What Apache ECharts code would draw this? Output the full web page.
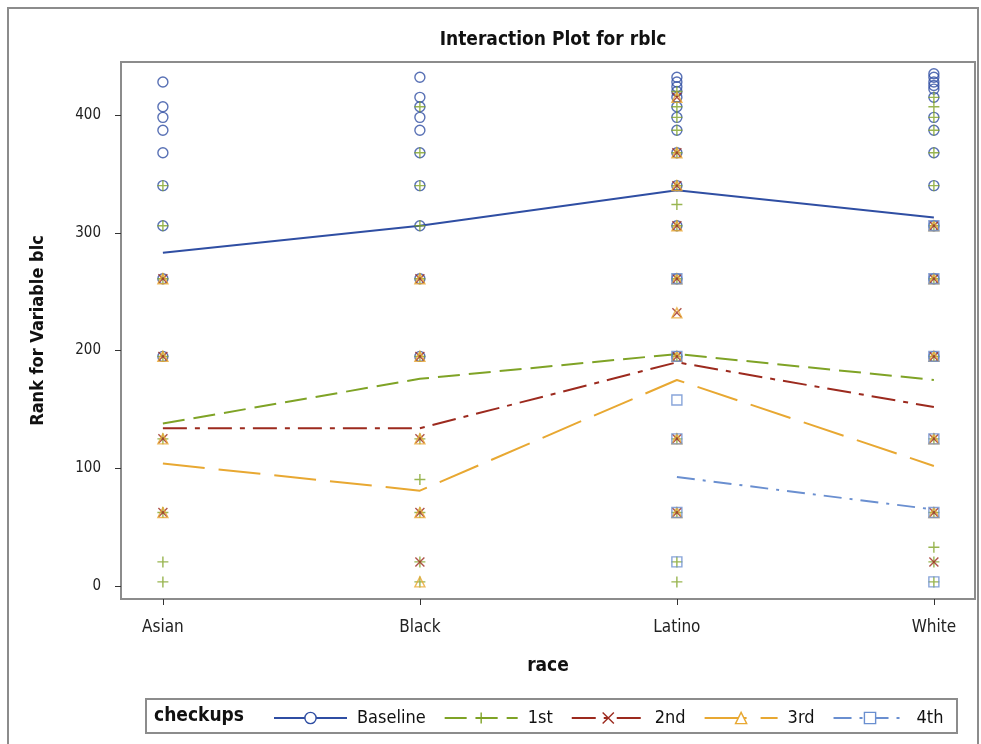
<!DOCTYPE html>
<html>
<head>
<meta charset="utf-8">
<title>Interaction Plot for rblc</title>
<script src="https://cdn.jsdelivr.net/npm/echarts@6/dist/echarts.min.js"></script>
<style>
  html, body { margin: 0; padding: 0; background: #fff; }
  #chart { width: 981px; height: 744px; }
</style>
</head>
<body>
<div id="chart"></div>
<script>
// Categories and groups
const races = ['Asian', 'Black', 'Latino', 'White'];
const checkups = ['Baseline', '1st', '2nd', '3rd', '4th'];
const yTicks = [0, 100, 200, 300, 400];

// Mean rank per race (null = no observations)
const meanBaseline = [283, 306, 336, 313];
const mean1st = [138, 176, 197, 175];
const mean2nd = [134, 134, 190, 152];
const mean3rd = [104, 81, 175, 102];
const mean4th = [null, null, 92.5, 65];

// Observed ranks per race (Asian, Black, Latino, White)
const obsBaseline = [
  [428, 407, 398, 387, 368, 340, 306, 261, 195],
  [432, 415, 407, 398, 387, 368, 340, 306, 261, 195],
  [432, 428, 424, 420, 415, 407, 398, 387, 368, 340, 306, 261, 195],
  [435, 432, 428, 425, 422, 415, 398, 387, 368, 340, 306, 261, 195]
];
const obs1st = [
  [340, 306, 261, 195, 125, 62.5, 20.5, 3.5],
  [407, 368, 340, 306, 261, 195, 125, 90.5, 62.5, 20.5, 3.5],
  [420, 407, 398, 387, 368, 340, 324, 306, 261, 195, 125, 62.5, 20.5, 3.5],
  [415, 407, 398, 387, 368, 340, 306, 261, 195, 125, 62.5, 33, 20.5, 3.5]
];
const obs2nd = [
  [261, 195, 125, 62.5],
  [261, 195, 125, 62.5, 20.5],
  [415, 368, 340, 306, 261, 232, 195, 125, 62.5],
  [306, 261, 195, 125, 62.5, 20.5]
];
const obs3rd = [
  [261, 195, 125, 62.5],
  [261, 195, 125, 62.5, 3.5],
  [415, 368, 340, 306, 261, 232, 195, 125, 62.5],
  [306, 261, 195, 125, 62.5]
];
const obs4th = [
  [],
  [],
  [261, 195, 158, 125, 62.5, 20.5],
  [306, 261, 195, 125, 62.5, 3.5]
];

const means = [meanBaseline, mean1st, mean2nd, mean3rd, mean4th];
const obs = [obsBaseline, obs1st, obs2nd, obs3rd, obs4th];

// Group styling
const colors = ['#2f4ea3', '#7fa326', '#9c2a1e', '#e8a832', '#6a8fd0'];
const symbols = [
  'circle',
  'path://M0,5L10,5M5,0L5,10',
  'path://M0,0L10,10M10,0L0,10',
  'triangle',
  'rect'
];
const symbolSizes = [10, 11, 9, 10, 10];
const dashes = ['solid', [22, 9], [24, 8, 5, 8], [42, 14], [18, 8, 3, 8]];

const FONT = "'Liberation Sans Narrow', 'DejaVu Sans Condensed', 'Roboto Condensed', Roboto, sans-serif";

const series = [];
checkups.forEach((name, g) => {
  const lineData = [];
  means[g].forEach((v, i) => { if (v !== null) lineData.push([i, v]); });
  series.push({
    name: name,
    type: 'line',
    data: lineData,
    symbol: symbols[g],
    showSymbol: false,
    itemStyle: { color: '#fff', borderColor: colors[g], borderWidth: 1.4 },
    lineStyle: { color: colors[g], width: 2, type: dashes[g] },
    emphasis: { disabled: true },
    silent: true,
    z: 2
  });
});
checkups.forEach((name, g) => {
  const pts = [];
  obs[g].forEach((vals, i) => vals.forEach(v => pts.push([i, v])));
  series.push({
    name: name,
    type: 'scatter',
    data: pts,
    symbol: symbols[g],
    symbolSize: symbolSizes[g],
    itemStyle: { color: 'rgba(0,0,0,0)', borderColor: colors[g], borderWidth: 1.4 },
    emphasis: { disabled: true },
    silent: true,
    z: 3
  });
});

const chart = echarts.init(document.getElementById('chart'), null, { renderer: 'canvas' });
chart.setOption({
  animation: false,
  backgroundColor: '#fff',
  textStyle: { fontFamily: FONT },
  title: {
    text: 'Interaction Plot for rblc',
    left: 548,
    top: 26,
    textAlign: 'center',
    textStyle: { fontFamily: FONT, fontSize: 19, fontWeight: 'bold', color: '#111' }
  },
  grid: {
    left: 121, right: 6, top: 62, bottom: 145,
    show: true, borderColor: '#8c8c8c', borderWidth: 2, backgroundColor: '#fff'
  },
  xAxis: {
    type: 'value',
    min: -0.163,
    max: 3.16,
    name: 'race',
    nameLocation: 'middle',
    nameGap: 58,
    nameTextStyle: { fontFamily: FONT, fontSize: 19, fontWeight: 'bold', color: '#111' },
    axisLine: { show: false, onZero: false },
    splitLine: { show: false },
    axisTick: { show: true, customValues: [0, 1, 2, 3], length: 6, lineStyle: { color: '#333', width: 1 } },
    axisLabel: {
      customValues: [0, 1, 2, 3],
      formatter: v => races[Math.round(v)],
      fontFamily: FONT, fontSize: 17, color: '#222', margin: 20
    }
  },
  yAxis: {
    type: 'value',
    min: -11,
    max: 445,
    name: 'Rank for Variable blc',
    nameLocation: 'middle',
    nameGap: 74,
    nameTextStyle: { fontFamily: FONT, fontSize: 18, fontWeight: 'bold', color: '#111' },
    axisLine: { show: false, onZero: false },
    splitLine: { show: false },
    axisTick: { show: true, customValues: yTicks, length: 6, lineStyle: { color: '#333', width: 1 } },
    axisLabel: { customValues: yTicks, fontFamily: FONT, fontSize: 15, color: '#222', margin: 20 }
  },
  legend: {
    left: 273,
    top: 709,
    padding: 0,
    itemWidth: 73,
    itemHeight: 14,
    itemGap: 18,
    selectedMode: false,
    textStyle: { fontFamily: FONT, fontSize: 18, color: '#111', padding: [0, 0, 0, 5] },
    data: checkups.map((name, g) => ({
      name: name,
      itemStyle: { color: '#fff', borderColor: colors[g], borderWidth: 1.4 },
      lineStyle: { color: colors[g], width: 2, type: dashes[g] }
    }))
  },
  graphic: [
    {
      type: 'rect',
      shape: { x: 8, y: 8, width: 970, height: 760 },
      style: { fill: 'none', stroke: '#8c8c8c', lineWidth: 2 },
      silent: true
    },
    {
      type: 'rect',
      shape: { x: 146, y: 699, width: 811, height: 34 },
      style: { fill: 'none', stroke: '#8c8c8c', lineWidth: 2 },
      silent: true
    },
    {
      type: 'text',
      left: 154,
      top: 707,
      style: { text: 'checkups', fontFamily: FONT, fontSize: 19, fontWeight: 'bold', fill: '#111' },
      silent: true
    }
  ],
  series: series
});
</script>
</body>
</html>
